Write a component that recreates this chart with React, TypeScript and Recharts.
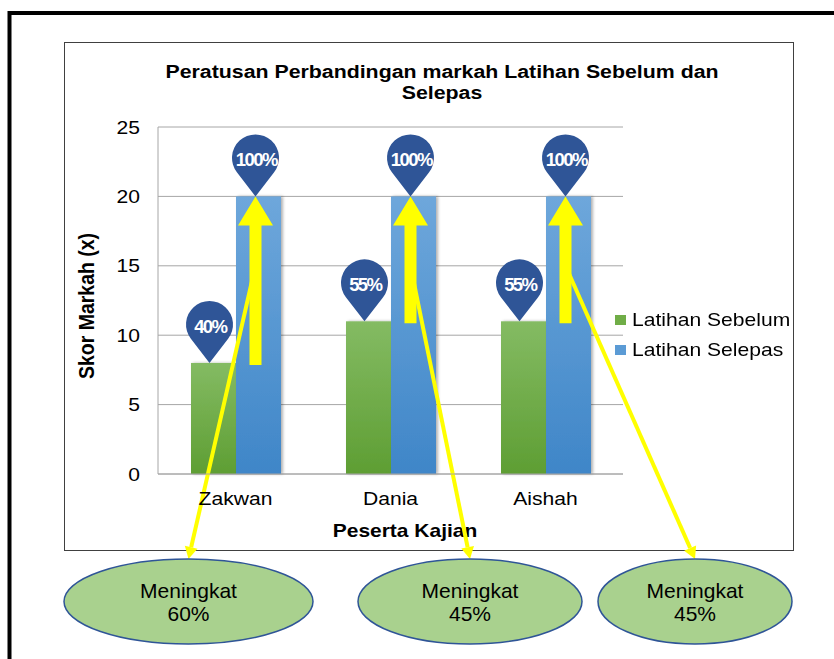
import React from 'react';
import { BarChart, Bar, XAxis, YAxis, CartesianGrid, Legend } from 'recharts';

const categories = ['Zakwan', 'Dania', 'Aishah'];
const latihanSebelum = [8, 11, 11];
const latihanSelepas = [20, 20, 20];
const peratusSebelum = [40, 55, 55];
const peratusSelepas = [100, 100, 100];
const peningkatan = [60, 45, 45];
const yTicks = [0, 5, 10, 15, 20, 25];

const data = categories.map((name, i) => ({
  name,
  sebelum: latihanSebelum[i],
  selepas: latihanSelepas[i],
  pctSebelum: peratusSebelum[i],
  pctSelepas: peratusSelepas[i],
  naik: peningkatan[i],
}));

// kedudukan bujur "Meningkat" di bawah carta
const callouts = [
  { cx: 188.5, rx: 124.5 },
  { cx: 470, rx: 112 },
  { cx: 695, rx: 97 },
];
const CALLOUT_CY = 601.5;
const CALLOUT_RY = 42.5;

const FONT = '"Liberation Sans", Arial, sans-serif';
const STRETCH = 1.14;
const PIN = '#2F5597';
const KUNING = '#FFFF00';
const legendColors = { 'Latihan Sebelum': '#70AD47', 'Latihan Selepas': '#5B9BD5' };

function Pin({ x, tipY, label }) {
  const r = 23.5;
  const d = 38.5;
  const cy = tipY - d;
  const a = Math.acos(r / d);
  const sx = r * Math.sin(a);
  const sy = r * Math.cos(a);
  return (
    <g>
      <path
        d={`M${x},${tipY} L${x - sx},${cy + sy} A${r},${r} 0 1 1 ${x + sx},${cy + sy} Z`}
        fill={PIN}
      />
      <text
        x={x + 0.8}
        y={cy + 8.5}
        textAnchor="middle"
        fill="#fff"
        fontFamily={FONT}
        fontWeight="bold"
        fontSize={18.5}
        letterSpacing={-1.6}
      >
        {label}
      </text>
    </g>
  );
}

function SebelumBar(props) {
  const { x, y, width, height, payload } = props;
  return (
    <g>
      <rect x={x} y={y} width={width} height={height} fill="url(#gradHijau)" filter="url(#bayang)" />
      <Pin x={x + width / 2 - 4} tipY={y} label={`${payload.pctSebelum}%`} />
    </g>
  );
}

function SelepasBar(props) {
  const { x, y, width, height, payload, index } = props;
  const base = y + height;
  const unit = height / payload.selepas;
  const cx = x + width / 2 - 3;
  const yHijau = base - payload.sebelum * unit;
  const yMula = base - 15 * unit;
  const c = callouts[index];
  const ex = c.cx;
  const ey = CALLOUT_CY - CALLOUT_RY;
  const dx = ex - cx;
  const dy = ey - yMula;
  const len = Math.hypot(dx, dy);
  const ux = dx / len;
  const uy = dy / len;
  const bx = ex - ux * 12;
  const by = ey - uy * 12;
  const px = -uy * 6.5;
  const py = ux * 6.5;
  const block = [
    [cx, y],
    [cx + 17.5, y + 29],
    [cx + 6, y + 29],
    [cx + 6, yHijau + 2],
    [cx - 6, yHijau + 2],
    [cx - 6, y + 29],
    [cx - 17.5, y + 29],
  ]
    .map((p) => p.join(','))
    .join(' ');
  return (
    <g>
      <rect x={x} y={y} width={width} height={height} fill="url(#gradBiru)" filter="url(#bayang)" />
      <polygon points={block} fill={KUNING} />
      <line x1={cx} y1={yMula} x2={bx} y2={by} stroke={KUNING} strokeWidth={4} />
      <polygon points={`${ex},${ey} ${bx + px},${by + py} ${bx - px},${by - py}`} fill={KUNING} />
      <ellipse cx={c.cx} cy={CALLOUT_CY} rx={c.rx} ry={CALLOUT_RY} fill="#A9D18E" stroke={PIN} strokeWidth={1.5} />
      <text x={c.cx} y={CALLOUT_CY - 4} textAnchor="middle" fontFamily={FONT} fontSize={21} fill="#000">
        Meningkat
      </text>
      <text x={c.cx} y={CALLOUT_CY + 19} textAnchor="middle" fontFamily={FONT} fontSize={21} fill="#000">
        {`${payload.naik}%`}
      </text>
      <Pin x={cx} tipY={y} label={`${payload.pctSelepas}%`} />
    </g>
  );
}

function XTick({ x, y, payload }) {
  return (
    <text
      transform={`translate(${x},${y + 31}) scale(${STRETCH},1)`}
      textAnchor="middle"
      fontFamily={FONT}
      fontSize={18.5}
      fill="#000"
    >
      {payload.value}
    </text>
  );
}

function YTick({ x, y, payload }) {
  return (
    <text
      transform={`translate(${x - 18},${y + 6.6}) scale(${STRETCH},1)`}
      textAnchor="end"
      fontFamily={FONT}
      fontSize={18.5}
      fill="#000"
    >
      {payload.value}
    </text>
  );
}

function LegendBox({ payload }) {
  const items =
    payload && payload.length
      ? payload.map((p) => p.value)
      : ['Latihan Sebelum', 'Latihan Selepas'];
  return (
    <div style={{ width: 190, position: 'relative', left: -8, fontFamily: FONT, fontSize: 18.5 }}>
      {items.map((label) => (
        <div key={label} style={{ display: 'flex', alignItems: 'center', height: 30 }}>
          <span style={{ width: 11, height: 10, background: legendColors[label], marginRight: 6, flex: 'none' }} />
          <span style={{ display: 'inline-block', transform: `scaleX(${STRETCH})`, transformOrigin: 'left center', whiteSpace: 'nowrap' }}>
            {label}
          </span>
        </div>
      ))}
    </div>
  );
}

export default function App() {
  return (
    <div style={{ position: 'absolute', left: 0, top: 0, background: '#fff' }}>
      <BarChart
        width={834}
        height={659}
        data={data}
        margin={{ top: 127, right: 21, bottom: 155, left: 0 }}
        barGap={0}
        barSize={45}
      >
        <defs>
          <linearGradient id="gradHijau" x1="0" y1="0" x2="0" y2="1">
            <stop offset="0%" stopColor="#84BB63" />
            <stop offset="100%" stopColor="#5E9E33" />
          </linearGradient>
          <linearGradient id="gradBiru" x1="0" y1="0" x2="0" y2="1">
            <stop offset="0%" stopColor="#6EA7DB" />
            <stop offset="100%" stopColor="#3F86C8" />
          </linearGradient>
          <filter id="bayang" x="-20%" y="-5%" width="140%" height="110%">
            <feDropShadow dx="2" dy="0" stdDeviation="1.5" floodColor="#000" floodOpacity="0.3" />
          </filter>
        </defs>
        <rect x={9.5} y={13} width={1000} height={1000} fill="none" stroke="#000" strokeWidth={4} />
        <rect x={64.5} y={42.5} width={729} height={508} fill="none" stroke="#404040" strokeWidth={1} />
        <text transform={`translate(442,78) scale(${STRETCH},1)`} textAnchor="middle" fontFamily={FONT} fontWeight="bold" fontSize={18.7} fill="#000">
          Peratusan Perbandingan markah Latihan Sebelum dan
        </text>
        <text transform={`translate(442,98.5) scale(${STRETCH},1)`} textAnchor="middle" fontFamily={FONT} fontWeight="bold" fontSize={18.7} fill="#000">
          Selepas
        </text>
        <text transform={`translate(94,306) scale(${STRETCH},1) rotate(-90)`} textAnchor="middle" fontFamily={FONT} fontWeight="bold" fontSize={19.5} fill="#000">
          Skor Markah (x)
        </text>
        <text transform={`translate(405,537) scale(${STRETCH},1)`} textAnchor="middle" fontFamily={FONT} fontWeight="bold" fontSize={18.4} fill="#000">
          Peserta Kajian
        </text>
        <CartesianGrid vertical={false} stroke="#A6A6A6" />
        <XAxis
          dataKey="name"
          height={30}
          tickLine={false}
          tickSize={0}
          tickMargin={0}
          interval={0}
          axisLine={{ stroke: '#A6A6A6' }}
          tick={<XTick />}
        />
        <YAxis
          width={158}
          domain={[0, 25]}
          ticks={yTicks}
          tickLine={false}
          tickSize={0}
          tickMargin={0}
          axisLine={{ stroke: '#A6A6A6' }}
          tick={<YTick />}
        />
        <Legend
          layout="vertical"
          align="right"
          verticalAlign="middle"
          wrapperStyle={{ top: 305 }}
          content={(p) => <LegendBox payload={p.payload} />}
        />
        <Bar dataKey="sebelum" name="Latihan Sebelum" fill="#70AD47" shape={<SebelumBar />} isAnimationActive={false} />
        <Bar dataKey="selepas" name="Latihan Selepas" fill="#5B9BD5" shape={<SelepasBar />} isAnimationActive={false} />
      </BarChart>
    </div>
  );
}
